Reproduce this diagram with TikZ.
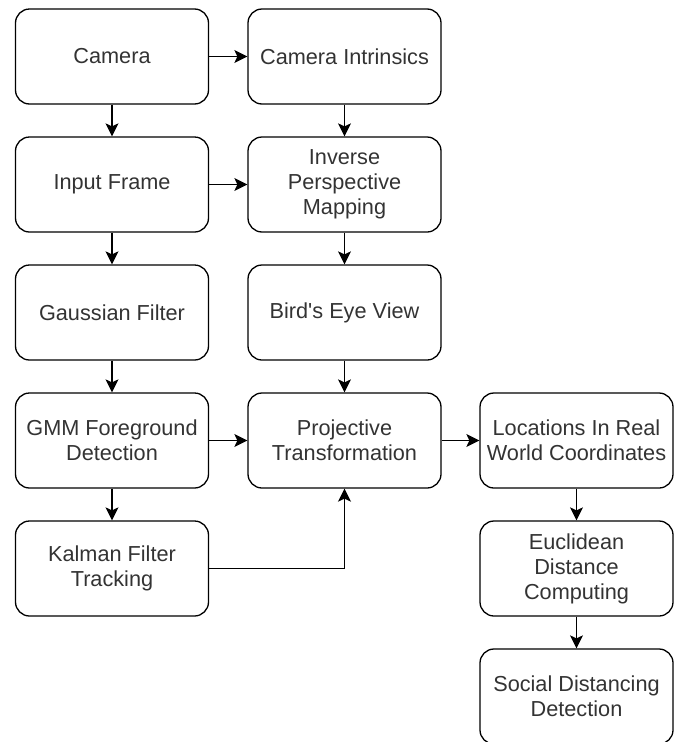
\documentclass[tikz,border=0pt]{standalone}
\usepackage{fontspec}
\setmainfont{Liberation Sans}
\usetikzlibrary{graphs}
\usetikzlibrary{arrows.meta}

\begin{document}
\begin{tikzpicture}[x=1pt, y=-1pt,
	main/.style={draw, line width=1.3pt, rounded corners=14pt, minimum width=193pt, minimum height=95pt, align=center, text=black!80, font=\fontsize{21.7}{25}\selectfont},
	pil/.style={-{Stealth[length=13pt, width=13pt, inset=3pt]}, line width=1.3pt}]
	\useasboundingbox (0,0) rectangle (680,742);
	
	%Boksene
	\node[main] (cam) at (112,56.5) {Camera};
	\node[main] (intr) at (344.5,56.5) {Camera Intrinsics};
	\node[main] (frame) at (112,184.5) {Input Frame};
	\node[main] (ipm) at (344.5,184.5) {Inverse\\Perspective\\Mapping};
	\node[main] (gauss) at (112,312.5) {Gaussian Filter};
	\node[main] (bev) at (344.5,312.5) {Bird\textquotesingle s Eye View};
	\node[main] (gmm) at (112,440.5) {GMM Foreground\\Detection};
	\node[main] (proj) at (344.5,440.5) {Projective\\Transformation};
	\node[main] (loc) at (576.5,440.5) {Locations In Real\\World Coordinates};
	\node[main] (kalman) at (112,568.5) {Kalman Filter\\Tracking};
	\node[main] (eucl) at (576.5,568.5) {Euclidean\\Distance\\Computing};
	\node[main] (social) at (576.5,696.5) {Social Distancing\\Detection};
	
	%Pilene
	\graph[edges=pil] {
		(cam) -> (intr) -> (ipm) -> (bev) -> (proj) -> (loc) -> (eucl) -> (social);
		(cam) -> (frame) -> (gauss) -> (gmm) -> (kalman);
		(frame) -> (ipm);
		(gmm) -> (proj);
	};
	\draw[pil] (kalman) -| (proj);
	
\end{tikzpicture}
\end{document}
